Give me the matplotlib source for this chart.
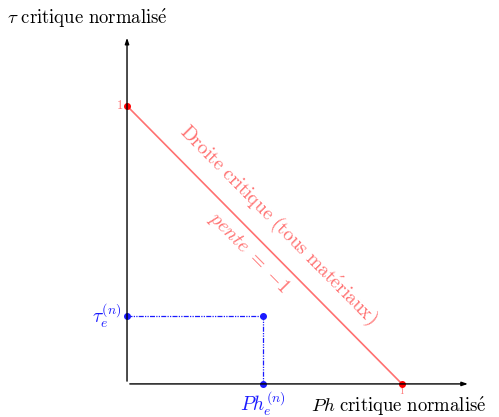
import matplotlib
matplotlib.use('Agg')
import matplotlib.pyplot as plt

plt.rcParams['font.family'] = ['DejaVu Serif']
plt.rcParams['mathtext.fontset'] = 'cm'
plt.rcParams['axes.unicode_minus'] = False

# critical line end points (normalised)
line_x = [0.0, 1.0]
line_y = [1.0, 0.0]
# normalised point of the material
pt_x = 0.495
pt_y = 0.245
axis_end = 1.25

fig = plt.figure(figsize=(4.99, 4.17), dpi=100)
ax = fig.add_axes([0, 0, 1, 1])
ax.set_xlim(-0.462, 1.353)
ax.set_ylim(-0.119, 1.381)
ax.axis('off')

# axes with arrows
ax.annotate('', xy=(axis_end, 0), xytext=(0, 0),
            arrowprops=dict(arrowstyle='-|>,head_length=0.35,head_width=0.12', color='black', lw=1.0))
ax.annotate('', xy=(0, axis_end + 0.005), xytext=(0, 0),
            arrowprops=dict(arrowstyle='-|>,head_length=0.35,head_width=0.12', color='black', lw=1.0))

# critical line
red = '#ff7070'
ax.plot(line_x, line_y, color=red, lw=1.2)
ax.plot(line_x, line_y, 'o', color='red', ms=4)
ax.text(-0.015, 1.0, r'$\mathrm{1}$', color=red, ha='right', va='center', fontsize=9)
ax.text(1.0, -0.008, r'$\mathrm{1}$', color=red, ha='center', va='top', fontsize=6.5)
ax.text(0.52, 0.54, r'$\mathrm{Droite\ critique\ (tous\ mat\acute{e}riaux)}$', color=red, fontsize=14,
        rotation=-45.3, rotation_mode='anchor', ha='center', va='bottom')
ax.text(0.445, 0.47, r'$pente\ {=}\ {-1}$', color=red, fontsize=14,
        rotation=-45.3, rotation_mode='anchor', ha='center', va='center')

# material point and projections
blue = '#1a1aff'
ax.plot([0, pt_x, pt_x], [pt_y, pt_y, 0], color=blue, lw=0.9, ls=(0, (4, 1, 1, 1, 1, 1)))
ax.plot([0, pt_x, pt_x], [pt_y, pt_y, 0], 'o', color=blue, ms=4)
ax.text(-0.02, pt_y, r'$\tau_e^{(n)}$', color=blue, ha='right', va='center', fontsize=14)
ax.text(pt_x, -0.02, r'$Ph_e^{(n)}$', color=blue, ha='center', va='top', fontsize=14)

# axis titles
ax.text(-0.435, 1.315, r'$\tau\ \mathrm{critique\ normalis\acute{e}}$', ha='left', va='center', fontsize=13.5)
ax.text(0.67, -0.081, r'$Ph\ \mathrm{critique\ normalis\acute{e}}$', ha='left', va='center', fontsize=13.5)

fig.savefig('out.png', dpi=100)
